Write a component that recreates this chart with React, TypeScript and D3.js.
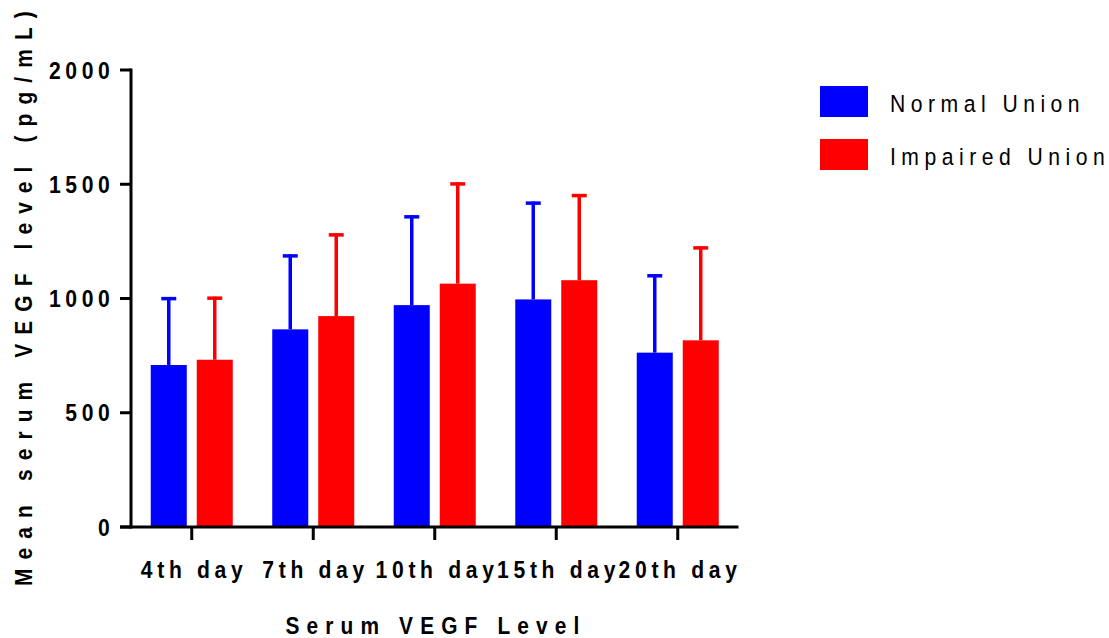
import React from 'react';
import * as d3 from 'd3';

// chart data
const days = ['4th day', '7th day', '10th day', '15th day', '20th day'];
const seriesNames = ['Normal Union', 'Impaired Union'];
const seriesColors = ['#0000FF', '#FF0000'];
const normalMean = [709, 865, 971, 996, 763];
const normalSD = [297, 328, 393, 428, 343];
const impairedMean = [732, 923, 1065, 1080, 817];
const impairedSD = [276, 362, 443, 377, 411];
const yTicks = [0, 500, 1000, 1500, 2000];

const W = 1109;
const H = 638;
const FONT = '"Liberation Sans", Arial, sans-serif';

// Prism-style text: glyphs a little narrow, wide tracking
function Label({ x, y, sx = 0.88, rotate = 0, anchor = 'start', size, bold = false, ls, dy, children }: any) {
    return (
        <g transform={`translate(${x},${y}) rotate(${rotate}) scale(${sx},1)`}>
            <text textAnchor={anchor} fontSize={size} fontWeight={bold ? 'bold' : 'normal'} letterSpacing={ls} dy={dy}>
                {children}
            </text>
        </g>
    );
}

export default function App() {
    const left = 131, right = 738.5, top = 70, bottom = 527;

    const x = d3.scaleBand<string>().domain(days).range([left, right]).padding(0);
    const inner = d3.scaleBand<string>().domain(seriesNames).range([-41, 41]).paddingInner(0.217).paddingOuter(0);
    const y = d3.scaleLinear().domain([0, 2000]).range([bottom, top]);

    const series = [
        { name: seriesNames[0], color: seriesColors[0], mean: normalMean, sd: normalSD },
        { name: seriesNames[1], color: seriesColors[1], mean: impairedMean, sd: impairedSD },
    ];

    const bw = inner.bandwidth();
    const capW = 15;

    return (
        <svg width={W} height={H} style={{ position: 'absolute', left: 0, top: 0 }} fontFamily={FONT}>
            <rect width={W} height={H} fill="#fff" />

            {/* bars + upper error bars */}
            {series.map(s => (
                <g key={s.name}>
                    {days.map((d, i) => {
                        const cx = x(d)! + x.bandwidth() / 2 + inner(s.name)!;
                        const mid = cx + bw / 2;
                        const yTop = y(s.mean[i]);
                        const yErr = y(s.mean[i] + s.sd[i]);
                        return (
                            <g key={d}>
                                <line x1={mid} x2={mid} y1={yTop} y2={yErr} stroke={s.color} strokeWidth={3.5} />
                                <line x1={mid - capW / 2} x2={mid + capW / 2} y1={yErr + 1.5} y2={yErr + 1.5} stroke={s.color} strokeWidth={3.5} />
                                <rect x={cx} y={yTop} width={bw} height={y(0) - yTop} fill={s.color} />
                            </g>
                        );
                    })}
                </g>
            ))}

            {/* y axis */}
            <line x1={left} x2={left} y1={top - 1.5} y2={bottom + 1.5} stroke="#000" strokeWidth={3} />
            {yTicks.map(t => (
                <g key={t}>
                    <line x1={120} x2={left} y1={y(t)} y2={y(t)} stroke="#000" strokeWidth={3} />
                    <Label x={114.5} y={y(t)} dy="0.36em" anchor="end" size={24} bold ls={5.3}>
                        {t}
                    </Label>
                </g>
            ))}

            {/* x axis */}
            <line x1={120} x2={right} y1={bottom} y2={bottom} stroke="#000" strokeWidth={3} />
            {days.map(d => {
                const cx = x(d)! + x.bandwidth() / 2;
                return (
                    <g key={d}>
                        <line x1={cx} x2={cx} y1={bottom} y2={bottom + 13} stroke="#000" strokeWidth={3} />
                        <Label x={cx + 2.3} y={578} anchor="middle" size={24} bold ls={5.3}>
                            {d}
                        </Label>
                    </g>
                );
            })}

            {/* axis titles */}
            <Label x={436} y={634} anchor="middle" size={24} sx={0.87} bold ls={8.2}>
                Serum VEGF Level
            </Label>
            <Label x={32} y={294} rotate={-90} anchor="middle" size={24} sx={0.87} bold ls={10.5}>
                Mean serum VEGF level (pg/mL)
            </Label>

            {/* legend */}
            {series.map((s, i) => (
                <g key={s.name} transform={`translate(820,${86 + i * 53})`}>
                    <rect width={48} height={31} fill={s.color} />
                    <Label x={70} y={18} dy="0.36em" size={23.5} sx={0.9} ls={6.1}>
                        {s.name}
                    </Label>
                </g>
            ))}
        </svg>
    );
}
